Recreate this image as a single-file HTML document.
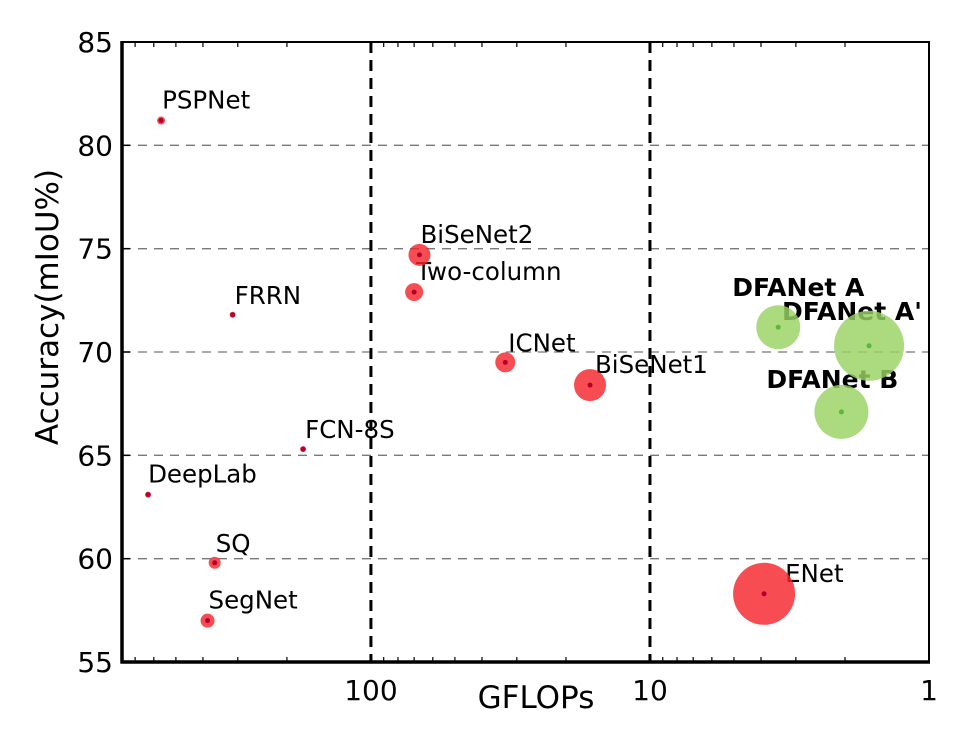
<!DOCTYPE html>
<html><head><meta charset="utf-8"><style>
body{margin:0;background:#fff}
svg text{font-family:"DejaVu Sans","Liberation Sans",sans-serif}
</style></head><body>
<svg id="chart" width="968" height="736" viewBox="0 0 968 736" xmlns="http://www.w3.org/2000/svg">
<g id="grid"></g>
<g id="labels"></g>
<g id="marks"></g>
<g id="axes"></g>
</svg>
<script>
const names = ["PSPNet","FRRN","FCN-8S","DeepLab","SQ","SegNet","BiSeNet2","Two-column","ICNet","BiSeNet1","ENet","DFANet A","DFANet A'","DFANet B"];
const gflops = [565,313,175,629,363,385,67,70,33,16.4,3.9,3.47,1.64,2.06];
const accuracy = [81.2,71.8,65.3,63.1,59.8,57.0,74.7,72.9,69.5,68.4,58.3,71.2,70.3,67.1];
const bubbleSize = [4,3,3,3,6,7,11,9,10,16,31,22,35,27];
const isOurs = [0,0,0,0,0,0,0,0,0,0,0,1,1,1];
const yTicks = [55,60,65,70,75,80,85];
const yGrid = [60,65,70,75,80];
const xTicks = [100,10,1];
const xTickLabels = ["100","10","1"];
const labelOffsets = [[1,-12],[2,-11],[2,-11],[0,-12],[1,-11],[1,-12],[1,-12],[2,-12],[3,-11],[5,-12],[21,-12],[-46,-31],[-87,-26],[-75,-24]];

const NS="http://www.w3.org/2000/svg";
const L=122,R=929,T=42,B=662;
const xMaxV=780, xMinV=1;
function xs(v){return R-(Math.log10(v)-Math.log10(xMinV))/(Math.log10(xMaxV)-Math.log10(xMinV))*(R-L);}
function ys(v){return B-(v-55)/30*(B-T);}
function mk(tag,attrs,parent,txt){const e=document.createElementNS(NS,tag);for(const k in attrs)e.setAttribute(k,attrs[k]);if(txt!==undefined)e.textContent=txt;parent.appendChild(e);return e;}
const grid=document.getElementById('grid'),labels=document.getElementById('labels'),marks=document.getElementById('marks'),axes=document.getElementById('axes');

yGrid.forEach(v=>{const e=mk('line',{x1:L,x2:R,y1:ys(v),y2:ys(v),stroke:'#777','stroke-width':1.3,'stroke-dasharray':'9,7'},grid);

});
[100,10].forEach(v=>{const e=mk('line',{x1:xs(v),x2:xs(v),y1:T,y2:B,stroke:'#000','stroke-width':3,'stroke-dasharray':'11,7'},grid);

});

names.forEach((n,i)=>{const x=xs(gflops[i]),y=ys(accuracy[i]);
const t=mk('text',{x:x+labelOffsets[i][0],y:y+labelOffsets[i][1],'font-size':isOurs[i]?25:24.5,'font-weight':isOurs[i]?'bold':'normal',fill:'#000'},labels,n);


const c=mk('circle',{cx:x,cy:y,r:bubbleSize[i],fill:isOurs[i]?'#9ad263':'#f5262c','fill-opacity':0.82},marks);


const d=mk('circle',{cx:x,cy:y,r:2.5,fill:isOurs[i]?'#5cb83a':'#b5002e'},marks);

});

for(let dec=0;dec<3;dec++){for(let m=1;m<10;m++){const v=m*Math.pow(10,dec);if(v>xMaxV||v<xMinV)continue;const x=xs(v);const len=(m===1)?8:5;
mk('line',{x1:x,x2:x,y1:B,y2:B-len,stroke:'#000','stroke-width':1.2},axes);mk('line',{x1:x,x2:x,y1:T,y2:T+len,stroke:'#000','stroke-width':1.2},axes);}}
const frame=mk('rect',{x:L,y:T,width:R-L,height:B-T,fill:'none',stroke:'#000','stroke-width':2},axes);


mk('line',{x1:L,x2:L,y1:T-1,y2:B+1.5,stroke:'#000','stroke-width':3.5},axes);
mk('line',{x1:L-1.5,x2:R+1,y1:B,y2:B,stroke:'#000','stroke-width':3.5},axes);
yTicks.forEach(v=>{const y=ys(v);mk('line',{x1:L,x2:L+8,y1:y,y2:y,stroke:'#000','stroke-width':1.5},axes);
const t=mk('text',{x:113,y:y+10,'font-size':28,'text-anchor':'end'},axes,String(v));

});
xTicks.forEach((v,i)=>{const t=mk('text',{x:xs(v),y:700,'font-size':28,'text-anchor':'middle'},axes,xTickLabels[i]);

});
const xt=mk('text',{x:536,y:708,'font-size':31,'text-anchor':'middle'},axes,'GFLOPs');


const yt=mk('text',{x:0,y:0,'font-size':31,'text-anchor':'middle',transform:'translate(58,307) rotate(-90)'},axes,'Accuracy(mIoU%)');


</script>
</body></html>
